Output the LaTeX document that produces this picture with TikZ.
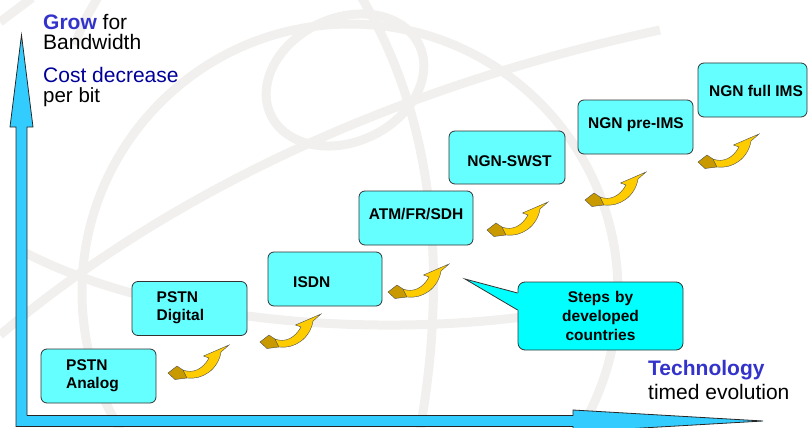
\documentclass[tikz,border=0pt]{standalone}
\usepackage{fontspec}
\setmainfont{Liberation Sans}
\usetikzlibrary{calc}

\definecolor{axisblue}{HTML}{33CCFF}
\definecolor{stepcyan}{HTML}{66FFFF}
\definecolor{calloutcyan}{HTML}{00FFFF}
\definecolor{goldbody}{HTML}{FFCC00}
\definecolor{goldtail}{HTML}{C99A00}
\definecolor{headblue}{HTML}{3333CC}
\definecolor{costblue}{HTML}{000099}
\definecolor{globegray}{HTML}{F1F0EE}

\tikzset{
  stepbox/.style={draw=black!80, line width=0.8pt, rounded corners=6pt,
    fill=stepcyan, inner sep=0pt, minimum width=115pt, minimum height=54pt},
  steptext/.style={font=\fontsize{15.5}{18.5}\selectfont\bfseries,
    inner sep=0pt, align=left},
  callbox/.style={draw=black!80, line width=0.8pt, rounded corners=7pt,
    fill=calloutcyan, inner sep=0pt, minimum width=165pt, minimum height=68pt,
    text width=160pt, align=center,
    font=\fontsize{15.5}{19}\selectfont\bfseries},
  axislabel/.style={font=\fontsize{21}{20}\selectfont, inner sep=0pt, anchor=base west},
  axisline/.style={draw=black!85, line width=0.8pt, line join=miter},
  globeline/.style={draw=globegray, line width=9pt},
  goldtwist/.pic={
    % dark twisted tail of the ribbon
    \filldraw[fill=goldtail, draw=black!70, line width=0.4pt]
      (0,0) -- (9,-7) -- (15,-3) -- (19,5) -- (7,6.5) -- cycle;
    % bright curved body with its head
    \filldraw[fill=goldbody, draw=black!70, line width=0.4pt]
      (15,-3) .. controls (25,1) and (35,-4) .. (41,-15)
      -- (35.5,-17) -- (61,-28) -- (53,-21)
      .. controls (50,-3) and (34,7) .. (19,5) -- cycle;
  }
}

\begin{document}
\begin{tikzpicture}[x=1pt, y=-1pt]
  \useasboundingbox (0,0) rectangle (808,428);
  \clip (0,0) rectangle (808,428);

  % faint globe in the background
  \begin{scope}[globeline]
    \draw (350,292) circle[radius=268pt];
    \draw[rotate around={25:(345,80)}] (345,80) ellipse[x radius=82pt, y radius=62pt];
    \draw (360,-5) .. controls (430,110) and (450,260) .. (420,430);
    \draw (0,335) .. controls (160,200) and (380,90) .. (660,30);
    \draw (20,250) .. controls (170,330) and (430,345) .. (618,300);
    \draw (0,22) -- (32,-2);
    \draw (75,45) .. controls (82,25) .. (98,-3);
  \end{scope}

  % vertical axis arrow
  \filldraw[fill=axisblue, axisline]
    (16,426.5) -- (16,127) -- (10,127) -- (21.5,35) -- (33,127) -- (27,127)
    -- (27,426.5) -- cycle;
  % horizontal axis arrow
  \fill[axisblue] (21,415.5) -- (573,415.5) -- (573,410) -- (763,421)
    -- (573,432) -- (573,426.5) -- (21,426.5) -- cycle;
  \draw[axisline] (27,415.5) -- (573,415.5) -- (573,410) -- (763,421)
    -- (573,432) -- (573,426.5) -- (16,426.5);

  % axis captions
  \node[axislabel] (grow) at (43,30) {\textcolor{headblue}{\bfseries Grow} for};
  \node[axislabel] (bw) at (43,49.5) {Bandwidth};
  \node[axislabel, text=costblue] (cost) at (43,82) {Cost decrease};
  \node[axislabel, font=\fontsize{20.5}{20}\selectfont] (perbit) at (43,102) {per bit};
  \node[axislabel] (tech) at (648,375) {\textcolor{headblue}{\bfseries Technology}};
  \node[axislabel] (timed) at (648,399.5) {timed evolution};

  % technology steps
  \node[stepbox] (analog) at (98.5,376) {};
  \node[stepbox] (digital) at (189.5,308.5) {};
  \node[stepbox, minimum width=114pt] (isdn) at (325,279) {};
  \node[stepbox, minimum width=114pt] (atm) at (416,218) {};
  \node[stepbox, minimum width=116pt, minimum height=53pt] (swst) at (507,157.5) {};
  \node[stepbox] (preims) at (635.5,127) {};
  \node[stepbox, minimum width=109pt] (fullims) at (752.5,90) {};

  % two-line labels sit on the baseline of their last line
  \node[steptext, anchor=base west] (analogT) at (66,388.5) {PSTN\\Analog};
  \node[steptext, anchor=base west] (digitalT) at (156.5,320.8) {PSTN\\Digital};
  \node[steptext, anchor=base west] (isdnT) at (293,287) {ISDN};
  \node[steptext, anchor=base] (atmT) at (416,219) {ATM/FR/SDH};
  \node[steptext, anchor=base] (swstT) at (509.5,166) {NGN-SWST};
  \node[steptext, anchor=base] (preimsT) at (636,128) {NGN pre-IMS};
  \node[steptext, anchor=base] (fullimsT) at (756,96.5) {NGN full IMS};

  % curved step arrows
  \pic (up1) at (168,373) {goldtwist};
  \pic (up2) at (260,342) {goldtwist};
  \pic (up3) at (388,292) {goldtwist};
  \pic (up4) at (487,230) {goldtwist};
  \pic (up5) at (585,200) {goldtwist};
  \pic (up6) at (698,162) {goldtwist};

  % callout
  \node[callbox] (steps) at (600.5,316) {Steps by\\developed\\countries};
  \coordinate (stepsTip) at (465,279);
  \fill[calloutcyan] (stepsTip) -- ($(steps.west)+(0,-23)$) -- ($(steps.west)+(3,-23)$)
    -- ($(steps.west)+(3,-6)$) -- ($(steps.west)+(0,-6)$) -- cycle;
  \draw[draw=black!80, line width=0.8pt, line join=miter]
    ($(steps.west)+(0,-23)$) -- (stepsTip) -- ($(steps.west)+(0,-6)$);
\end{tikzpicture}
\end{document}
